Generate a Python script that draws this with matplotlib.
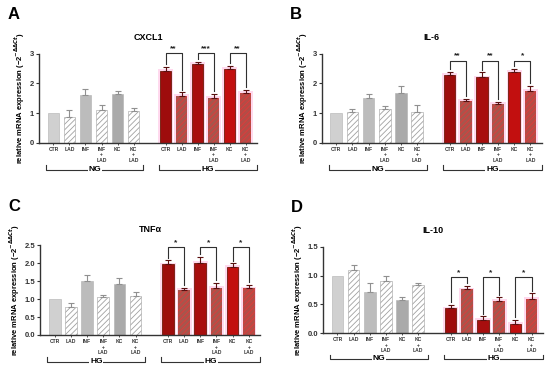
import numpy as np
import matplotlib
matplotlib.use('Agg')
import matplotlib.pyplot as plt
import matplotlib.transforms as mtransforms

plt.rcParams['font.family'] = ['Liberation Sans', 'DejaVu Sans']
plt.rcParams['font.weight'] = 'bold'
plt.rcParams['hatch.linewidth'] = 0.6

labels = ['CTR', 'LAD', 'INF', 'INF\n+\nLAD', 'KC', 'KC\n+\nLAD']

# values: NG group then HG group, errors as SEM
cxcl1_ng = [1.0, 0.88, 1.62, 1.09, 1.64, 1.08]
cxcl1_ng_err = [0.0, 0.21, 0.20, 0.19, 0.12, 0.10]
cxcl1_hg = [2.43, 1.58, 2.65, 1.51, 2.48, 1.67]
cxcl1_hg_err = [0.12, 0.12, 0.07, 0.14, 0.12, 0.12]
cxcl1_stars = ['**', '***', '**']

il6_ng = [1.0, 1.03, 1.52, 1.15, 1.68, 1.05]
il6_ng_err = [0.0, 0.11, 0.12, 0.08, 0.22, 0.22]
il6_hg = [2.28, 1.40, 2.20, 1.32, 2.40, 1.75]
il6_hg_err = [0.12, 0.08, 0.17, 0.06, 0.10, 0.17]
il6_stars = ['**', '**', '*']

tnf_ng = [1.0, 0.78, 1.52, 1.06, 1.43, 1.10]
tnf_ng_err = [0.0, 0.12, 0.16, 0.06, 0.15, 0.10]
tnf_hg = [1.97, 1.26, 2.02, 1.31, 1.90, 1.30]
tnf_hg_err = [0.11, 0.05, 0.16, 0.14, 0.10, 0.09]
tnf_stars = ['*', '*', '*']

il10_ng = [1.0, 1.10, 0.72, 0.90, 0.57, 0.83]
il10_ng_err = [0.0, 0.09, 0.16, 0.10, 0.05, 0.05]
il10_hg = [0.43, 0.76, 0.23, 0.56, 0.16, 0.60]
il10_hg_err = [0.06, 0.06, 0.06, 0.06, 0.07, 0.09]
il10_stars = ['*', '*', '*']

ng_colors = ['#d0d0d0', 'white', '#bcbcbc', 'white', '#aaaaaa', 'white']
hg_colors = ['#9e0c0c', '#a8554c', '#a80e0e', '#a8554c', '#c20f0f', '#b44c46']
hatch_ng = [None, '//////', None, '//////', None, '//////']

xpos_ng = np.arange(6)
xpos_hg = np.arange(6) + 7


def panel(rect, letter, title, ng, ng_err, hg, hg_err, stars, ymax, yticks,
          ytl, brk_y, group_names=('NG', 'HG')):
    ax = fig.add_axes(rect)
    w = 0.72
    # NG bars
    for i in range(6):
        ax.bar(xpos_ng[i], ng[i], w, color=ng_colors[i],
               edgecolor='#a0a0a0' if hatch_ng[i] else '#b0b0b0',
               hatch=hatch_ng[i], linewidth=0.4, zorder=2)
        if ng_err[i] > 0:
            ax.errorbar(xpos_ng[i], ng[i], yerr=[[0], [ng_err[i]]], fmt='none',
                        ecolor='#909090', elinewidth=0.8, capsize=2.5,
                        capthick=0.8, zorder=3)
    # HG bars with soft pink halo
    for i in range(6):
        ax.bar(xpos_hg[i], hg[i] + 0.02 * ymax, w + 0.22, color='#ffd9ee',
               linewidth=0, zorder=1)
        if i % 2 == 1:
            ax.bar(xpos_hg[i], hg[i], w, color=hg_colors[i], edgecolor='#e23a3a',
                   hatch='//////', linewidth=0, zorder=2)
        else:
            ax.bar(xpos_hg[i], hg[i], w, color=hg_colors[i], edgecolor='#6e1a0a',
                   linewidth=0.6, zorder=2)
        ax.errorbar(xpos_hg[i], hg[i], yerr=[[0], [hg_err[i]]], fmt='none',
                    ecolor='#5a1010', elinewidth=0.8, capsize=2.5,
                    capthick=0.8, zorder=3)
    # significance brackets
    for k in range(3):
        x1 = xpos_hg[2 * k]
        x2 = xpos_hg[2 * k + 1]
        y1 = hg[2 * k] + hg_err[2 * k] + 0.03 * ymax
        y2 = hg[2 * k + 1] + hg_err[2 * k + 1] + 0.03 * ymax
        ax.plot([x1, x1, x2, x2], [y1, brk_y, brk_y, y2], color='#303030',
                lw=0.8, zorder=4, clip_on=False)
        ax.text((x1 + x2) / 2, brk_y + 0.01 * ymax, stars[k], ha='center',
                va='bottom', fontsize=6, fontweight='bold', color='#222222')

    ax.set_xlim(-0.9, 12.7)
    ax.set_ylim(0, ymax)
    ax.set_yticks(yticks)
    ax.set_yticklabels(ytl, fontsize=5.5, fontweight='bold', color='#333333')
    ax.set_xticks(list(xpos_ng) + list(xpos_hg))
    ax.set_xticklabels(labels * 2, fontsize=3.6, fontweight='bold',
                       color='#333333', linespacing=1.1, va='top')
    ax.tick_params(axis='x', length=1.5, width=0.6, pad=1.5, color='#333333')
    ax.tick_params(axis='y', length=2.5, width=0.8, pad=1, color='#333333')
    for s in ['top', 'right']:
        ax.spines[s].set_visible(False)
    for s in ['left', 'bottom']:
        ax.spines[s].set_linewidth(1.0)
        ax.spines[s].set_color('#333333')
    ax.set_title(title, fontsize=6.5, fontweight='bold', pad=10)
    ax.set_ylabel('relative mRNA expression (\u22122$^{-\\Delta\\Delta Ct}$)',
                  fontsize=5.5, fontweight='bold', labelpad=2)

    # group brackets under the axis
    trans = mtransforms.blended_transform_factory(ax.transData, ax.transAxes)
    for (xa, xb), name in zip([(-0.45, 5.6), (6.6, 12.7)], group_names):
        yb = -0.30
        ax.plot([xa, xa, xb, xb], [yb + 0.05, yb, yb, yb + 0.05],
                transform=trans, color='#333333', lw=0.8, clip_on=False)
        ax.text((xa + xb) / 2, yb, name, transform=trans, ha='center',
                va='center', fontsize=6, fontweight='bold',
                bbox=dict(facecolor='white', edgecolor='none', pad=0.5))

    fig.text(rect[0] - 0.058, rect[1] + rect[3] + 0.105, letter, fontsize=12,
             fontweight='bold', ha='left', va='center')
    return ax


fig = plt.figure(figsize=(5.5, 3.73), dpi=100)

panel([0.071, 0.617, 0.396, 0.239], 'A', 'CXCL1', cxcl1_ng, cxcl1_ng_err,
      cxcl1_hg, cxcl1_hg_err, cxcl1_stars, 3, [0, 1, 2, 3],
      ['0', '1', '2', '3'], 3.02)
panel([0.585, 0.617, 0.400, 0.239], 'B', 'IL-6', il6_ng, il6_ng_err,
      il6_hg, il6_hg_err, il6_stars, 3, [0, 1, 2, 3],
      ['0', '1', '2', '3'], 2.77)
panel([0.073, 0.102, 0.400, 0.240], 'C', 'TNF\u03b1', tnf_ng, tnf_ng_err,
      tnf_hg, tnf_hg_err, tnf_stars, 2.5, [0, 0.5, 1.0, 1.5, 2.0, 2.5],
      ['0.0', '0.5', '1.0', '1.5', '2.0', '2.5'], 2.45,
      group_names=('HG', 'HG'))
panel([0.587, 0.107, 0.400, 0.231], 'D', 'IL-10', il10_ng, il10_ng_err,
      il10_hg, il10_hg_err, il10_stars, 1.5, [0, 0.5, 1.0, 1.5],
      ['0.0', '0.5', '1.0', '1.5'], 0.97)

fig.savefig('out.png', dpi=100)
